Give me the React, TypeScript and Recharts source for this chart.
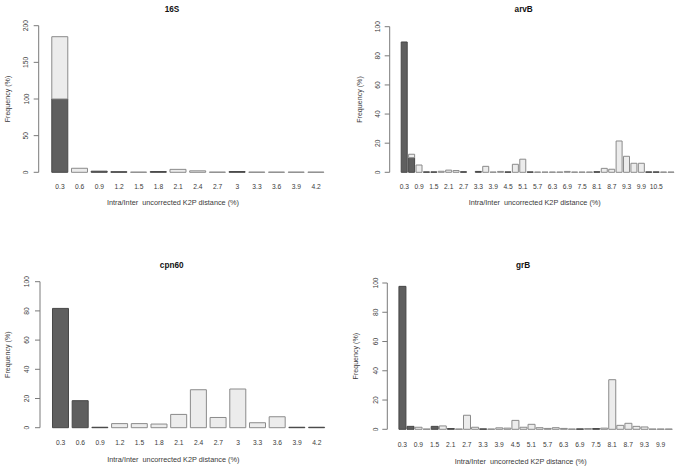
import React from 'react';
import { BarChart, Bar, XAxis, YAxis } from 'recharts';

// ---------------- data ----------------
const CATS_SHORT = ['0.3', '0.6', '0.9', '1.2', '1.5', '1.8', '2.1', '2.4', '2.7', '3', '3.3', '3.6', '3.9', '4.2'];

const INTRA_16S = [100, 0, 1.5, 0.8, 0, 1, 0, 0, 0, 1, 0, 0, 0, 0];
const INTER_16S = [85, 5.5, 0, 0, 0.3, 0, 4, 2, 0.3, 0, 0.3, 0.3, 0.3, 0.3];

const CATS_ARVB = [
  '0.3', '0.6', '0.9', '1.2', '1.5', '1.8', '2.1', '2.4', '2.7', '3', '3.3', '3.6', '3.9',
  '4.2', '4.5', '4.8', '5.1', '5.4', '5.7', '6', '6.3', '6.6', '6.9', '7.2', '7.5', '7.8',
  '8.1', '8.4', '8.7', '9', '9.3', '9.6', '9.9', '10.2', '10.5', '10.8', '11.1',
];
const INTRA_ARVB = [
  89.5, 10, 0, 0.3, 0.3, 0, 0, 0, 0.4, 0, 0.6, 0, 0, 0, 0.3, 0, 0, 0.3, 0, 0, 0, 0, 0, 0, 0, 0,
  0.4, 0, 0, 0, 0, 0, 0, 0.3, 0.3, 0, 0,
];
const INTER_ARVB = [
  0, 2.4, 5, 0, 0, 0.7, 1.5, 1.2, 0, 0, 0, 4.1, 0.2, 0.6, 0, 5.5, 9, 0, 0.2, 0.2, 0.2, 0.2, 0.6,
  0.2, 0.2, 0.2, 0, 2.7, 2.1, 21.5, 11, 6.2, 6.2, 0, 0, 0.2, 0.2,
];
const LABELS_ARVB = [
  '0.3', '0.9', '1.5', '2.1', '2.7', '3.3', '3.9', '4.5', '5.1', '5.7', '6.3', '6.9', '7.5',
  '8.1', '8.7', '9.3', '9.9', '10.5',
];

const INTRA_CPN60 = [81.7, 18.5, 0.3, 0, 0, 0, 0, 0, 0, 0, 0, 0, 0.3, 0.3];
const INTER_CPN60 = [0, 0, 0, 2.8, 2.8, 2.5, 9.1, 26, 7, 26.5, 3.4, 7.5, 0, 0];

const CATS_GRB = [
  '0.3', '0.6', '0.9', '1.2', '1.5', '1.8', '2.1', '2.4', '2.7', '3', '3.3', '3.6', '3.9',
  '4.2', '4.5', '4.8', '5.1', '5.4', '5.7', '6', '6.3', '6.6', '6.9', '7.2', '7.5', '7.8',
  '8.1', '8.4', '8.7', '9', '9.3', '9.6', '9.9', '10.2',
];
const INTRA_GRB = [
  97.7, 2, 0, 0, 2, 0, 0.5, 0, 0, 0, 0.3, 0, 0, 0, 0, 0, 0, 0, 0, 0, 0, 0, 0.3, 0, 0.5, 0, 0, 0,
  0, 0, 0, 0, 0, 0,
];
const INTER_GRB = [
  0, 0, 1.4, 0.2, 0, 2.3, 0, 0.2, 9.6, 1.4, 0, 0.2, 1.0, 0.8, 6.1, 1.4, 3.4, 1.1, 0.6, 1.1, 0.6,
  0.2, 0, 0.5, 0, 0.8, 33.9, 2.7, 4.1, 2, 1.6, 0.2, 0.2, 0.2,
];
const LABELS_GRB = [
  '0.3', '0.9', '1.5', '2.1', '2.7', '3.3', '3.9', '4.5', '5.1', '5.7', '6.3', '6.9', '7.5',
  '8.1', '8.7', '9.3', '9.9',
];

const TICKS_200 = [0, 50, 100, 150, 200];
const TICKS_100 = [0, 20, 40, 60, 80, 100];

const X_TITLE = 'Intra/Inter  uncorrected K2P distance (%)';
const Y_TITLE = 'Frequency (%)';

// ---------------- layout / style ----------------
const W = 678;
const H = 467;
const FONT = '"Liberation Sans", Arial, Helvetica, sans-serif';
const DARK = '#5f5f5f';
const DARK_STROKE = '#474747';
const LIGHT = '#ececec';
const LIGHT_STROKE = '#8a8a8a';
const AXIS = '#7a7a7a';
const TEXT = '#3a3a3a';

type Layout = {
  axisX: number; yTop: number; y0: number; c0: number; s: number;
  titleX: number; titleY: number; yLabX: number; yTitleX: number;
  xLabY: number; xTitleX: number; xTitleY: number;
};

type PanelDef = {
  title: string; cats: string[]; intra: number[]; inter: number[]; labels: string[];
  yMax: number; yTicks: number[]; layout: Layout;
};

const PANELS: PanelDef[] = [
  {
    title: '16S', cats: CATS_SHORT, intra: INTRA_16S, inter: INTER_16S, labels: CATS_SHORT,
    yMax: 200, yTicks: TICKS_200,
    layout: { axisX: 38.7, yTop: 25.7, y0: 172.3, c0: 60, s: 19.7, titleX: 172, titleY: 9.5,
      yLabX: 26, yTitleX: 8, xLabY: 186.7, xTitleX: 173, xTitleY: 202.7 },
  },
  {
    title: 'arvB', cats: CATS_ARVB, intra: INTRA_ARVB, inter: INTER_ARVB, labels: LABELS_ARVB,
    yMax: 100, yTicks: TICKS_100,
    layout: { axisX: 389.7, yTop: 26.7, y0: 172.3, c0: 404.3, s: 7.41, titleX: 523.7, titleY: 9.5,
      yLabX: 377.3, yTitleX: 359.7, xLabY: 186.7, xTitleX: 534.7, xTitleY: 202.7 },
  },
  {
    title: 'cpn60', cats: CATS_SHORT, intra: INTRA_CPN60, inter: INTER_CPN60, labels: CATS_SHORT,
    yMax: 100, yTicks: TICKS_100,
    layout: { axisX: 40, yTop: 281.7, y0: 427.7, c0: 60.7, s: 19.7, titleX: 171.7, titleY: 265.3,
      yLabX: 26.7, yTitleX: 8.3, xLabY: 442.3, xTitleX: 173.3, xTitleY: 459.7 },
  },
  {
    title: 'grB', cats: CATS_GRB, intra: INTRA_GRB, inter: INTER_GRB, labels: LABELS_GRB,
    yMax: 100, yTicks: TICKS_100,
    layout: { axisX: 387.3, yTop: 283, y0: 429.3, c0: 402.3, s: 8.07, titleX: 523, titleY: 265.3,
      yLabX: 375.7, yTitleX: 356.3, xLabY: 444, xTitleX: 520.7, xTitleY: 461.3 },
  },
];

function GenePanel({ p }: { p: PanelDef }) {
  const L = p.layout;
  const data = p.cats.map((c, i) => ({ cat: c, intra: p.intra[i], inter: p.inter[i] }));
  const N = p.cats.length;
  const bandStart = L.c0 - L.s / 2;
  const bandEnd = bandStart + N * L.s;
  const YW = 10;
  const XH = 10;
  const padL = bandStart - L.axisX;
  const padR = 1;
  const margin = {
    left: L.axisX - YW,
    top: L.yTop,
    right: Math.max(0, W - (bandEnd + padR)),
    bottom: H - L.y0 - XH,
  };
  const yMid = (L.yTop + L.y0) / 2;

  const XTick = (props: any) => {
    const v = String(props.payload?.value ?? '');
    if (!p.labels.includes(v)) return <g />;
    return (
      <text x={props.x} y={L.xLabY} textAnchor="middle" dominantBaseline="central"
        fontSize={6.7} fontFamily={FONT} fill={TEXT}>{v}</text>
    );
  };
  const YTick = (props: any) => {
    const y = props.y;
    return (
      <text x={L.yLabX} y={y} transform={`rotate(-90 ${L.yLabX} ${y})`} textAnchor="middle"
        dominantBaseline="central" fontSize={6.7} fontFamily={FONT} fill={TEXT}>
        {props.payload?.value}
      </text>
    );
  };

  return (
    <div style={{ position: 'absolute', left: 0, top: 0, width: W, height: H }}>
      <BarChart width={W} height={H} data={data} margin={margin} barCategoryGap="8.3%">
        <XAxis dataKey="cat" type="category" axisLine={false} tickLine={false} height={XH}
          padding={{ left: padL, right: padR }} interval={0} tick={XTick} />
        <YAxis type="number" domain={[0, p.yMax]} ticks={p.yTicks} width={YW} tickSize={5}
          axisLine={{ stroke: AXIS }} tickLine={{ stroke: AXIS }} tick={YTick} interval={0} />
        <Bar dataKey="intra" stackId="s" fill={DARK} stroke={DARK_STROKE} strokeWidth={1}
          isAnimationActive={false} />
        <Bar dataKey="inter" stackId="s" fill={LIGHT} stroke={LIGHT_STROKE} strokeWidth={1}
          isAnimationActive={false} />
        <text x={L.titleX} y={L.titleY} textAnchor="middle" dominantBaseline="central"
          fontSize={8.2} fontWeight="bold" fontFamily={FONT} fill="#111">{p.title}</text>
        <text x={L.xTitleX} y={L.xTitleY} textAnchor="middle" dominantBaseline="central"
          fontSize={7.3} fontFamily={FONT} fill={TEXT} style={{ whiteSpace: 'pre' }}>{X_TITLE}</text>
        <text x={L.yTitleX} y={yMid} transform={`rotate(-90 ${L.yTitleX} ${yMid})`}
          textAnchor="middle" dominantBaseline="central" fontSize={7.1} fontFamily={FONT}
          fill={TEXT}>{Y_TITLE}</text>
      </BarChart>
    </div>
  );
}

export default function App() {
  return (
    <div style={{ position: 'absolute', left: 0, top: 0, width: W, height: H, overflow: 'hidden',
      background: '#ffffff' }}>
      {PANELS.map((p) => (
        <GenePanel key={p.title} p={p} />
      ))}
    </div>
  );
}
